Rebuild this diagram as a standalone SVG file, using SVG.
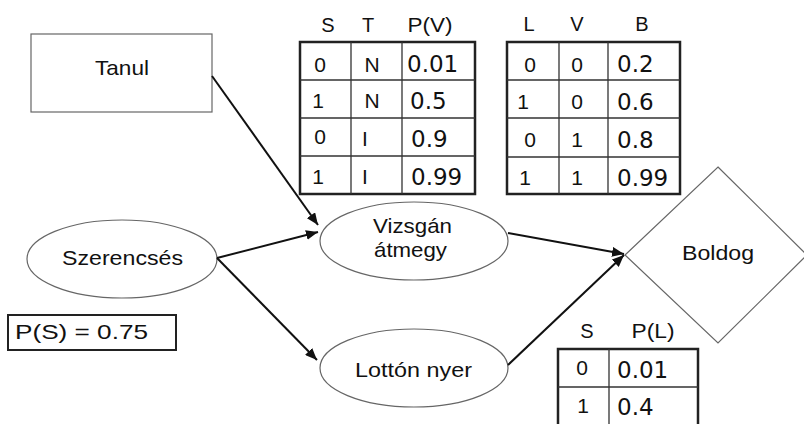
<svg xmlns="http://www.w3.org/2000/svg" width="804" height="424" viewBox="0 0 804 424">
<style>
.node{fill:#fff;stroke:#666;stroke-width:1.2}
.lbl{font-family:"Liberation Sans",Arial,sans-serif;font-size:21px;fill:#111}
.hdr{font-family:"Liberation Sans",Arial,sans-serif;font-size:20px;fill:#111;text-anchor:middle}
.cell{font-family:"Liberation Sans",Arial,sans-serif;font-size:21px;fill:#111;text-anchor:middle}
.val{font-family:"DejaVu Sans",Verdana,sans-serif;font-size:23px;fill:#111}
.outer{fill:#fff;stroke:#222;stroke-width:2.5}
.inner{stroke:#333;stroke-width:1.3;fill:none}
.edge{stroke:#111;stroke-width:2;fill:none}
</style>
<defs>
<marker id="arr" viewBox="0 0 12 10" refX="12" refY="5" markerWidth="12" markerHeight="10" markerUnits="userSpaceOnUse" orient="auto">
<path d="M0,0 L12,5 L0,10 z" fill="#111"/>
</marker>
</defs>
<rect width="804" height="424" fill="#fff"/>

<g id="table-v">
<text class="hdr" x="328" y="32">S</text>
<text class="hdr" x="368" y="32">T</text>
<text class="hdr" x="430" y="32" textLength="45" lengthAdjust="spacingAndGlyphs">P(V)</text>
<rect class="outer" x="300" y="42" width="175" height="152"/>
<path class="inner" d="M351,42V194M402,42V194M300,80H475M300,118H475M300,156H475"/>
<text class="cell" x="320" y="72">0</text><text class="cell" x="372" y="72">N</text><text class="val" x="407" y="72">0.01</text>
<text class="cell" x="318" y="108">1</text><text class="cell" x="372" y="108">N</text><text class="val" x="410" y="109">0.5</text>
<text class="cell" x="320" y="144">0</text><text class="cell" x="365" y="146">I</text><text class="val" x="411" y="147">0.9</text>
<text class="cell" x="318" y="184">1</text><text class="cell" x="365" y="184">I</text><text class="val" x="411" y="185">0.99</text>
</g>

<g id="table-b">
<text class="hdr" x="529" y="31">L</text>
<text class="hdr" x="577" y="31">V</text>
<text class="hdr" x="642" y="31">B</text>
<rect class="outer" x="507" y="42" width="173" height="152"/>
<path class="inner" d="M559,42V194M608,42V194M507,80H680M507,118H680M507,157H680"/>
<text class="cell" x="530" y="72">0</text><text class="cell" x="577" y="72">0</text><text class="val" x="617" y="72">0.2</text>
<text class="cell" x="523" y="109">1</text><text class="cell" x="577" y="109">0</text><text class="val" x="617" y="110">0.6</text>
<text class="cell" x="530" y="147">0</text><text class="cell" x="577" y="147">1</text><text class="val" x="617" y="148">0.8</text>
<text class="cell" x="525" y="185">1</text><text class="cell" x="577" y="185">1</text><text class="val" x="617" y="186">0.99</text>
</g>

<g id="Tanul">
<rect class="node" x="31" y="34" width="181" height="78"/>
<text class="lbl" x="122" y="75" text-anchor="middle" textLength="54" lengthAdjust="spacingAndGlyphs">Tanul</text>
</g>

<g id="Szerencses">
<ellipse class="node" cx="122" cy="259" rx="95" ry="39"/>
<text class="lbl" x="62" y="265" textLength="121" lengthAdjust="spacingAndGlyphs">Szerencsés</text>
</g>

<g id="PS">
<rect x="8" y="315" width="168" height="35" fill="#fff" stroke="#222" stroke-width="2"/>
<text class="lbl" x="15" y="339" font-size="20" textLength="133" lengthAdjust="spacingAndGlyphs">P(S) = 0.75</text>
</g>

<g id="Vizsgan">
<ellipse class="node" cx="414" cy="241" rx="94" ry="39"/>
<text class="lbl" x="373" y="233" textLength="79" lengthAdjust="spacingAndGlyphs">Vizsgán</text>
<text class="lbl" x="374" y="257" textLength="73" lengthAdjust="spacingAndGlyphs">átmegy</text>
</g>

<g id="Lotton">
<ellipse class="node" cx="414" cy="368" rx="94" ry="39"/>
<text class="lbl" x="355" y="377" textLength="117" lengthAdjust="spacingAndGlyphs">Lottón nyer</text>
</g>

<g id="Boldog">
<polygon class="node" points="718,167 807,255 718,343 625,255"/>
<text class="lbl" x="682" y="260" textLength="72" lengthAdjust="spacingAndGlyphs">Boldog</text>
</g>

<g id="table-l">
<text class="hdr" x="587" y="338">S</text>
<text class="hdr" x="653" y="338" textLength="43" lengthAdjust="spacingAndGlyphs">P(L)</text>
<rect class="outer" x="558" y="349" width="140" height="80"/>
<path class="inner" d="M609,349V424M558,387H698"/>
<text class="cell" x="582" y="375">0</text><text class="val" x="617" y="378">0.01</text>
<text class="cell" x="583" y="413">1</text><text class="val" x="617" y="415">0.4</text>
</g>

<g id="edges">
<line class="edge" x1="212" y1="76" x2="318" y2="225" marker-end="url(#arr)"/>
<line class="edge" x1="217" y1="258" x2="318" y2="232" marker-end="url(#arr)"/>
<line class="edge" x1="217" y1="258" x2="317" y2="360" marker-end="url(#arr)"/>
<line class="edge" x1="508" y1="233" x2="624" y2="254" marker-end="url(#arr)"/>
<line class="edge" x1="508" y1="365" x2="624" y2="255" marker-end="url(#arr)"/>
</g>
</svg>
